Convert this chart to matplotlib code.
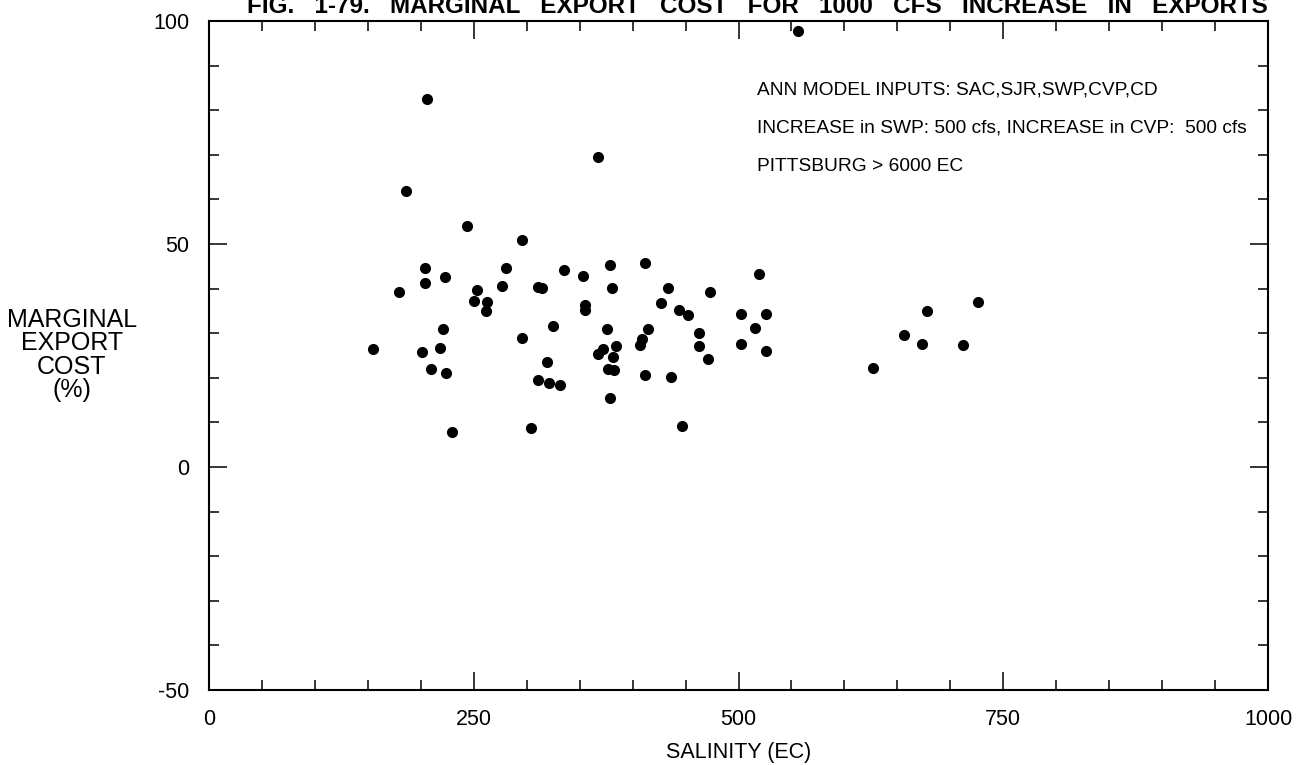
import matplotlib
matplotlib.use("Agg")
import matplotlib.pyplot as plt
from matplotlib.ticker import MultipleLocator

# salinity (EC) vs marginal export cost (%)
salinity = [205.6, 367.3, 186.3, 243.3, 295.2, 204.3, 280.1, 334.9, 222.5, 353.5,
            203.6, 276.4, 310.4, 314.1, 179.7, 252.8, 250.5, 262.5, 261.3, 355.3,
            354.8, 324.8, 220.7, 295.8, 155.2, 218.5, 201.1, 367.6, 319.5, 209.6,
            223.8, 310.4, 320.8, 331.2, 229.2, 304.1, 378.9, 411.4, 380.3, 433.4,
            426.8, 444.1, 452.6, 473.4, 519.4, 502.7, 525.7, 515.3, 375.5, 414.2,
            408.9, 407.0, 462.4, 462.4, 502.4, 526.3, 471.2, 372.4, 384.6, 381.2,
            377.1, 382.8, 411.7, 436.0, 378.7, 446.4, 627.3, 656.6, 673.3, 677.7,
            712.3, 725.8, 555.9]
cost = [82.5, 69.4, 61.8, 54.0, 51.0, 44.6, 44.6, 44.2, 42.6, 42.9,
        41.3, 40.6, 40.4, 40.2, 39.2, 39.6, 37.3, 37.1, 35.0, 36.4,
        35.1, 31.7, 30.9, 28.9, 26.4, 26.7, 25.7, 25.4, 23.5, 22.0,
        21.0, 19.4, 18.9, 18.4, 7.8, 8.7, 45.2, 45.7, 40.1, 40.2,
        36.8, 35.2, 34.0, 39.2, 43.3, 34.4, 34.2, 31.2, 30.9, 31.0,
        28.8, 27.4, 30.0, 27.2, 27.6, 26.0, 24.2, 26.5, 27.1, 24.7,
        22.0, 21.7, 20.6, 20.1, 15.5, 9.3, 22.2, 29.7, 27.6, 35.0,
        27.3, 36.9, 97.8]

notes = ["ANN MODEL INPUTS: SAC,SJR,SWP,CVP,CD",
         "INCREASE in SWP: 500 cfs, INCREASE in CVP:  500 cfs",
         "PITTSBURG > 6000 EC"]

plt.rcParams['font.family'] = ['Liberation Sans', 'DejaVu Sans']
plt.rcParams['axes.unicode_minus'] = False

fig = plt.figure(figsize=(13.09, 7.65), dpi=100, facecolor='white')
ax = fig.add_axes([209/1309, 1-690/765, (1268-209)/1309, (690-21)/765])

ax.plot(salinity, cost, 'o', color='black', markersize=7, clip_on=False)

ax.set_xlim(0, 1000)
ax.set_ylim(-50, 100)
ax.xaxis.set_major_locator(MultipleLocator(250))
ax.xaxis.set_minor_locator(MultipleLocator(50))
ax.yaxis.set_major_locator(MultipleLocator(50))
ax.yaxis.set_minor_locator(MultipleLocator(10))
ax.tick_params(which='both', direction='in', top=True, right=True, width=1.1)
ax.tick_params(which='major', length=13, labelsize=15.5)
ax.tick_params(which='minor', length=7)
ax.tick_params(axis='y', which='major', pad=14)
ax.tick_params(axis='x', which='major', pad=14)
for sp in ax.spines.values():
    sp.set_linewidth(1.5)

ax.set_xlabel("SALINITY (EC)", fontsize=15.5, labelpad=8)
fig.text(72/1309, 1-355/765, "MARGINAL\nEXPORT\nCOST\n(%)", ha='center', va='center',
         fontsize=18, linespacing=0.98)

for i, t in enumerate(notes):
    ax.text(517.5, 83.6 - 8.6*i, t, fontsize=13.8, ha='left', va='baseline')

# title sits at the very top edge, as in the scanned figure
fig.text(1268/1309, 1-13/765,
         "FIG.   1-79.   MARGINAL   EXPORT   COST   FOR   1000   CFS   INCREASE   IN   EXPORTS",
         ha='right', va='baseline', fontsize=17.5, fontweight='bold')

fig.savefig("out.png", dpi=100, facecolor='white')
